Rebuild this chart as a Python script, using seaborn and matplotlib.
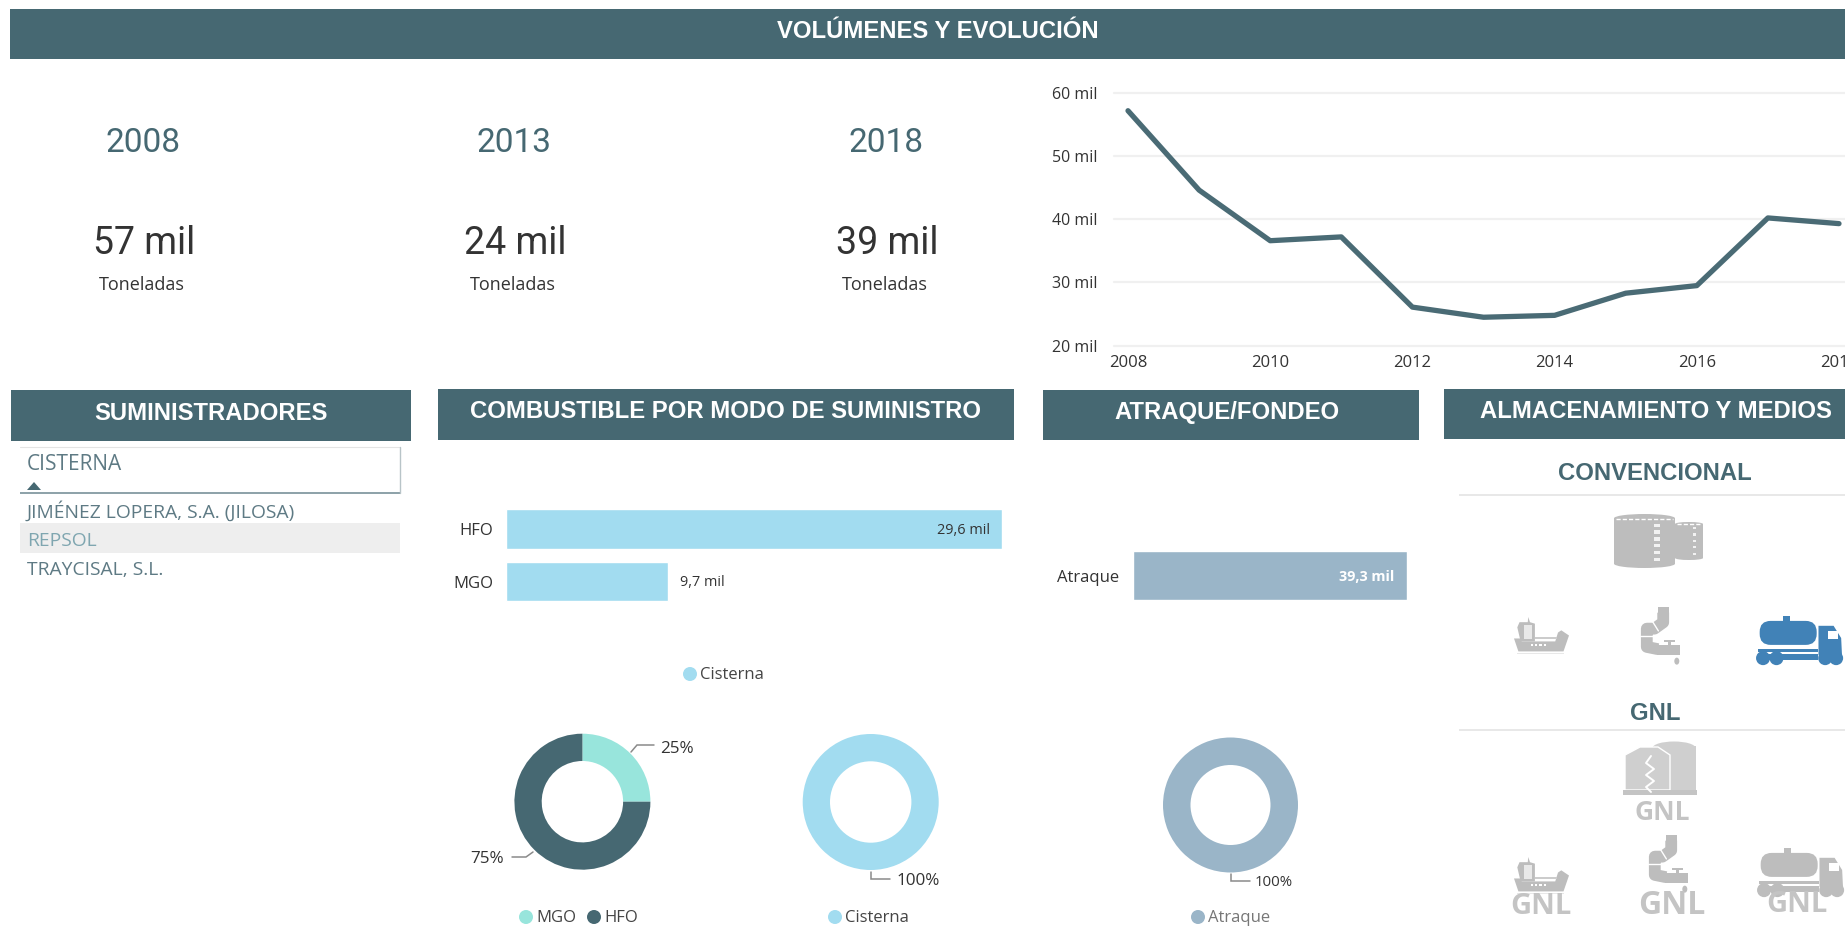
import matplotlib
matplotlib.use("Agg")
import matplotlib.pyplot as plt
import seaborn as sns
from matplotlib.patches import Rectangle, Polygon, Ellipse, FancyBboxPatch

# ---- data ----
years = [2008, 2009, 2010, 2011, 2012, 2013, 2014, 2015, 2016, 2017, 2018]
tonnes = [57.15, 44.6, 36.6, 37.2, 26.1, 24.5, 24.8, 28.3, 29.5, 40.2, 39.3]
y_ticks = [20, 30, 40, 50, 60]
x_ticks = [2008, 2010, 2012, 2014, 2016, 2018]
kpi_years = ["2008", "2013", "2018"]
kpi_values = ["57 mil", "24 mil", "39 mil"]
suppliers = ["JIMÉNEZ LOPERA, S.A. (JILOSA)", "REPSOL", "TRAYCISAL, S.L."]
fuel_names = ["HFO", "MGO"]
fuel_values = [29.6, 9.7]
berth_names = ["Atraque"]
berth_values = [39.3]
fuel_share_names = ["MGO", "HFO"]
fuel_share = [25, 75]
mode_share_names = ["Cisterna"]
mode_share = [100]
berth_share_names = ["Atraque"]
berth_share = [100]

# ---- style ----
W, H = 1845, 926
DARK = "#466872"
SKY = "#A2DCF0"
MINT = "#98E5DC"
STEEL = "#9AB5C8"
GREY = "#BDBDBD"
BLUE = "#4182B7"
BODY = "Open Sans"
HEAD = "Liberation Sans"
KPI = "Roboto"
sns.set_theme(style="white")
plt.rcParams["font.family"] = [BODY, "DejaVu Sans"]

fig = plt.figure(figsize=(W / 100, H / 100), dpi=100, facecolor="white")


def axes_px(l, t, r, b, **kw):
    return fig.add_axes([l / W, 1 - b / H, (r - l) / W, (b - t) / H], **kw)


def mil(v):
    return f"{v:.1f}".replace(".", ",") + " mil"


# ---- line chart ----
ax = axes_px(1114, 92.7, 1845, 345.7)
sns.lineplot(x=years, y=tonnes, ax=ax, color="#4A6B75", linewidth=3.8, zorder=3)
ax.set_xlim(2008 - 14 / 71.1, 2018 + 6 / 71.1)
ax.set_ylim(20, 60)
ax.set_xticks(x_ticks, [str(v) for v in x_ticks])
ax.set_yticks(y_ticks, [f"{v} mil" for v in y_ticks])
ax.tick_params(axis="both", length=0, labelcolor="#333333")
ax.tick_params(axis="x", pad=7, labelsize=12)
ax.tick_params(axis="y", pad=12, labelsize=11.5)
ax.grid(axis="y", color="#F0F0F0", linewidth=1.6)
for ln in ax.get_ygridlines():
    ln.set_clip_on(False)
sns.despine(ax=ax, left=True, bottom=True)
ax.patch.set_alpha(0)
ax.set_xlabel("")
ax.set_ylabel("")

# ---- fuel bars ----
ax = axes_px(505.5, 489.5, 1001.5, 621.5)
sns.barplot(x=fuel_values, y=fuel_names, ax=ax, color=SKY, saturation=1, width=0.74, orient="h")
ax.set_xlim(0, fuel_values[0])
ax.set_ylim(1.752, -0.748)
ax.set_xticks([])
ax.set_yticks([0, 1], fuel_names)
ax.tick_params(axis="y", length=0, labelsize=12, labelcolor="#333333", pad=9)
sns.despine(ax=ax, left=True, bottom=True)
ax.patch.set_alpha(0)
ax.text(fuel_values[0] - 0.68, 0.02, mil(fuel_values[0]), ha="right", va="center", fontsize=10.4, color="#333333",
        fontweight="medium")
ax.text(fuel_values[1] + 0.72, 1.02, mil(fuel_values[1]), ha="left", va="center", fontsize=10.4, color="#333333",
        fontweight="medium")

# ---- berth bar ----
ax = axes_px(1133, 551, 1407, 600)
sns.barplot(x=berth_values, y=berth_names, ax=ax, color=STEEL, saturation=1, width=1, orient="h")
ax.set_xlim(0, berth_values[0])
ax.set_ylim(0.5, -0.5)
ax.set_xticks([])
ax.set_yticks([0], berth_names)
ax.tick_params(axis="y", length=0, labelsize=12, labelcolor="#333333", pad=10)
sns.despine(ax=ax, left=True, bottom=True)
ax.text(berth_values[0] - 1.9, 0.03, mil(berth_values[0]), ha="right", va="center",
        fontsize=10.4, color="white", fontweight="bold")


# ---- donuts ----
def donut(cx, cy, r, inner, values, colors):
    a = axes_px(cx - r, cy - r, cx + r, cy + r)
    a.pie(values, colors=colors, startangle=90, counterclock=False, radius=1,
          wedgeprops=dict(width=1 - inner / r, linewidth=0))
    a.set_xlim(-1, 1)
    a.set_ylim(-1, 1)
    a.patch.set_alpha(0)


donut(582.4, 801.7, 68, 40.7, fuel_share, [MINT, DARK])
donut(870.7, 802, 68, 40.7, mode_share, [SKY])
donut(1230.5, 805, 67.5, 40, berth_share, [STEEL])

# ---- overlay in pixel coordinates ----
ov = fig.add_axes([0, 0, 1, 1], zorder=10)
ov.set_xlim(0, W)
ov.set_ylim(H, 0)
ov.axis("off")
ov.patch.set_alpha(0)


def rect(x0, y0, x1, y1, c, **kw):
    ov.add_patch(Rectangle((x0, y0), x1 - x0, y1 - y0, facecolor=c, edgecolor="none", **kw))


def header(x0, y0, x1, y1, txt, tx, ty, size=17.2):
    rect(x0, y0, x1, y1, DARK)
    ov.text(tx, ty, txt, color="white", fontsize=size, fontweight="bold", family=HEAD,
            ha="center", va="center")


header(10, 9, 1845, 59, "VOLÚMENES Y EVOLUCIÓN", 938, 32)
header(10.6, 390, 411, 441, "SUMINISTRADORES", 211, 413)
header(438, 389, 1013.5, 440, "COMBUSTIBLE POR MODO DE SUMINISTRO", 726, 412)
header(1042.5, 390, 1419, 440, "ATRAQUE/FONDEO", 1227, 412)
header(1444, 389, 1845, 439, "ALMACENAMIENTO Y MEDIOS", 1656, 412)

# KPI cards
for xc, yr, val in zip([142, 513, 885], kpi_years, kpi_values):
    ov.text(xc + 1, 143, yr, fontsize=24, color=DARK, family=KPI, ha="center", va="center")
    ov.text(xc + 2, 243, val, fontsize=27, color="#333333", family=KPI, ha="center", va="center")
    ov.text(xc, 285, "Toneladas", fontsize=13, color="#333333", ha="center", va="center")

# Supplier table
ov.plot([20, 400], [447, 447], color="#E4E4E4", lw=0.8)
ov.plot([400, 400], [447, 493], color="#B8C4C8", lw=1)
ov.text(27, 465, "CISTERNA", fontsize=15, color="#5E7A84", va="center")
ov.add_patch(Polygon([(27, 490), (41, 490), (34, 482)], facecolor=DARK, edgecolor="none"))
rect(20, 492, 400, 494, "#8FA3AA")
rect(20, 523, 400, 553, "#EEEEEE")
for yy, name, col in zip([511, 541, 570], suppliers, ["#5E7A84", "#7FA6B0", "#5E7A84"]):
    ov.text(27, yy, name, fontsize=13.9, color=col, va="center")


def legend(items):
    for dot_x, yy, col, txt, txt_col in items:
        ov.add_patch(Ellipse((dot_x, yy), 14, 14, facecolor=col, edgecolor="none"))
        ov.text(dot_x + 10, yy + 1, txt, fontsize=12, color=txt_col, va="center")


legend([(690, 674, SKY, "Cisterna", "#444444"),
        (526, 917, MINT, fuel_share_names[0], "#444444"),
        (594, 917, DARK, fuel_share_names[1], "#444444"),
        (835, 917, SKY, mode_share_names[0], "#444444"),
        (1198, 917, STEEL, berth_share_names[0], "#777777")])


def leader(xs, ys):
    ov.plot(xs, ys, color="#8A8A8A", lw=1.1, solid_joinstyle="miter")


leader([631, 637, 654], [752, 745, 745])
ov.text(660, 749, f"{fuel_share[0]}%", fontsize=12.3, color="#333333", va="center", fontweight="medium")
leader([512, 526, 533], [857, 857, 852])
ov.text(504, 859, f"{fuel_share[1]}%", fontsize=12.3, color="#333333", va="center", ha="right", fontweight="medium")
leader([871, 871, 890], [872, 879, 879])
ov.text(896, 881, f"{mode_share[0]}%", fontsize=12.3, color="#333333", va="center", fontweight="medium")
leader([1231, 1231, 1249.5], [874, 881, 881])
ov.text(1255, 883, f"{berth_share[0]}%", fontsize=10.8, color="#333333", va="center")

# Storage panel
for txt, yy, line_y in [("CONVENCIONAL", 474, 495), ("GNL", 714, 730)]:
    ov.text(1655, yy, txt, fontsize=17.2, fontweight="bold", family=HEAD, color=DARK,
            ha="center", va="center")
    rect(1459, line_y - 1.2, 1845, line_y + 1.2, "#E8E8E8")


def tank(x0, y0, x1, y1, c, dashes):
    h = (x1 - x0) * 0.14
    rect(x0, y0 + h / 2, x1, y1 - h / 2, c)
    ov.add_patch(Ellipse(((x0 + x1) / 2, y0 + h / 2), x1 - x0, h, facecolor=c, edgecolor="none"))
    ov.add_patch(Ellipse(((x0 + x1) / 2, y1 - h / 2), x1 - x0, h, facecolor=c, edgecolor="none"))
    xd = x0 + (x1 - x0) * 0.66
    wd = (x1 - x0) * 0.10
    for i in range(dashes):
        yy = y0 + h + (y1 - y0 - 1.5 * h) * (i + 0.15) / dashes
        rect(xd, yy, xd + wd, yy + (y1 - y0) * 0.06, "#F2F2F2")
    ov.plot([x0 + 2, x1 - 2], [y0 + h * 0.6, y0 + h * 0.6], color="white", lw=1, ls=(0, (3, 1.5)))


def ship(x0, y0, c):
    def p(u, v):
        return (x0 + u * 55, y0 + v * 37)
    ov.add_patch(Polygon([p(0, .58), p(.12, .58), p(.14, .66), p(.75, .66), p(.8, .42), p(.86, .36), p(1, .5),
                          p(.9, .93), p(.08, .93)], facecolor=c, edgecolor="none"))
    ov.add_patch(Polygon([p(.06, .28), p(.1, .14), p(.25, .14), p(.26, 0), p(.29, .14), p(.38, .18), p(.38, .66),
                          p(.12, .66)], facecolor=c, edgecolor="none"))
    rect(*p(.19, .22), *p(.33, .6), "#E9E9E9")
    rect(*p(.38, .55), *p(.78, .6), "#CCCCCC")
    for u in [.3, .38, .46, .54]:
        rect(*p(u, .72), *p(u + .04, .78), "white")
    rect(*p(.06, .96), *p(.9, 1), "#E8E8E8")


def pipe(x0, y0, c):
    def p(u, v):
        return (x0 + u * 40, y0 + v * 57)
    xs, ys = zip(p(.58, .1), p(.58, .27), p(.36, .38), p(.17, .38), p(.17, .7), p(.45, .74))
    ov.plot(xs, ys, color=c, lw=8.5, solid_joinstyle="round", solid_capstyle="butt")
    rect(*p(.45, 0), *p(.72, .14), c)
    rect(*p(.42, .66), *p(1, .84), c)
    rect(*p(.6, .58), *p(.88, .62), c)
    rect(*p(.71, .6), *p(.77, .68), c)
    ov.add_patch(Ellipse(p(.92, .95), 5, 7, facecolor=c, edgecolor="none"))
    ov.plot(*zip(p(.0, .5), p(.34, .5)), color="white", lw=1)
    ov.plot(*zip(p(.3, .24), p(.46, .42)), color="white", lw=1)


def truck(x0, y0, c):
    def p(u, v):
        return (x0 + u * 84, y0 + v * 49)
    ov.add_patch(FancyBboxPatch(p(.02, .1), 57, 24, boxstyle="round,pad=0,rounding_size=11",
                                mutation_aspect=1, facecolor=c, edgecolor="none"))
    rect(*p(.3, .0), *p(.38, .12), c)
    ov.add_patch(Polygon([p(.72, .2), p(.9, .2), p(.99, .45), p(1, .8), p(.72, .8)], facecolor=c, edgecolor="none"))
    rect(*p(.83, .3), *p(.95, .47), "white")
    rect(*p(0, .68), *p(.72, .73), c)
    rect(*p(.03, .78), *p(.72, .9), c)
    for u in [.06, .22, .8, .93]:
        ov.add_patch(Ellipse(p(u, .86), 14, 14, facecolor=c, edgecolor="none"))


tank(1614, 514, 1675, 568, GREY, 6)
tank(1675, 522, 1703, 560, GREY, 5)
ship(1514, 617, GREY)
pipe(1640, 607, GREY)
truck(1758, 616, BLUE)

# GNL row
LNG = "#CFCFCF"
rect(1653, 746, 1696, 790, LNG)
ov.add_patch(Ellipse((1674, 748), 43, 13, facecolor=LNG, edgecolor="none"))
ov.add_patch(Polygon([(1625, 755), (1640, 747), (1658, 747), (1670, 755), (1670, 790), (1625, 790)],
                     facecolor=LNG, edgecolor="white", linewidth=1))
ov.plot([1651, 1646, 1654, 1646, 1654, 1646, 1651], [756, 763, 769, 775, 781, 787, 792], color="white", lw=1.4)
rect(1623, 790, 1697, 795, "#C4C4C4")
ship(1514, 857, GREY)
pipe(1648, 835, GREY)
truck(1759, 848, GREY)
for xc, yy, fs in [(1662, 813, 19), (1541, 907, 21), (1672, 905, 23), (1797, 905, 21)]:
    ov.text(xc, yy, "GNL", fontsize=fs, fontweight="bold", family=BODY,
            color="#C4C4C4", ha="center", va="center")

fig.savefig("out.png", dpi=100, facecolor="white")
